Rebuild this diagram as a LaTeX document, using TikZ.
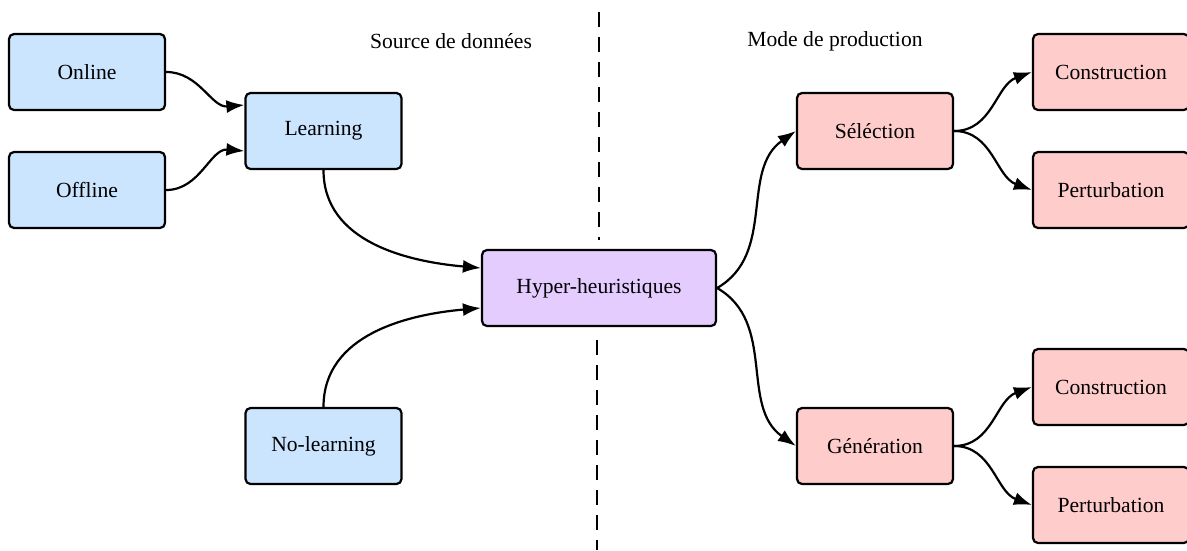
\documentclass[tikz,border=0pt]{standalone}
\usepackage{fontspec}
\setmainfont{Liberation Serif}
\usetikzlibrary{arrows.meta}
\definecolor{bluefill}{HTML}{CCE5FF}
\definecolor{purplefill}{HTML}{E5CCFF}
\definecolor{redfill}{HTML}{FFCCCC}
\begin{document}
\begin{tikzpicture}[x=1pt,y=-1pt,
  box/.style={draw=black,line width=2.2pt,rounded corners=5pt,minimum width=156pt,minimum height=76pt,inner sep=0pt,font=\fontsize{21.6}{24}\selectfont},
  bbox/.style={box,fill=bluefill},
  pbox/.style={box,fill=purplefill,minimum width=234pt},
  rbox/.style={box,fill=redfill},
  conn/.style={line width=2.2pt,-{Latex[length=18pt,width=13pt]}},
  lbl/.style={font=\fontsize{21.6}{24}\selectfont,inner sep=0pt},
  sep/.style={line width=2.2pt,dash pattern=on 15pt off 10pt}]
\useasboundingbox (0,0) rectangle (1187,550);
\fill[white] (0,0) rectangle (1187,550);
\coordinate (s1) at (599,12);
\coordinate (s2) at (599,240);
\coordinate (s3) at (597,340);
\coordinate (s4) at (597,550);
\draw[sep] (s1) -- (s2);
\draw[sep] (s3) -- (s4);
\node[lbl] (src) at (451,41) {Source de données};
\node[lbl] (mode) at (835,41) {Mode de production};
\node[bbox] (online) at (87,72) {Online};
\node[bbox] (offline) at (87,190) {Offline};
\node[bbox] (learn) at (323.5,131) {Learning};
\node[bbox] (nolearn) at (323.5,446) {No-learning};
\node[pbox] (hh) at (599,288) {Hyper-heuristiques};
\node[rbox] (sel) at (875,131) {Séléction};
\node[rbox] (gen) at (875,446) {Génération};
\node[rbox] (c1) at (1111,72) {Construction};
\node[rbox] (p1) at (1111,190) {Perturbation};
\node[rbox] (c2) at (1111,387) {Construction};
\node[rbox] (p2) at (1111,505) {Perturbation};
\draw[conn] (online.east) to[out=0,in=185] ([yshift=26pt]learn.west);
\draw[conn] (offline.east) to[out=0,in=175] ([yshift=-20pt]learn.west);
\draw[conn] (learn.south) to[out=-90,in=175] ([yshift=20pt]hh.west);
\draw[conn] (nolearn.north) to[out=90,in=185] ([yshift=-20pt]hh.west);
\draw[conn] (hh.east) to[out=30,in=215] (sel.west);
\draw[conn] (hh.east) to[out=-30,in=145] (gen.west);
\draw[conn] (sel.east) to[out=0,in=200] (c1.west);
\draw[conn] (sel.east) to[out=0,in=160] (p1.west);
\draw[conn] (gen.east) to[out=0,in=200] (c2.west);
\draw[conn] (gen.east) to[out=0,in=160] (p2.west);
\end{tikzpicture}
\end{document}
